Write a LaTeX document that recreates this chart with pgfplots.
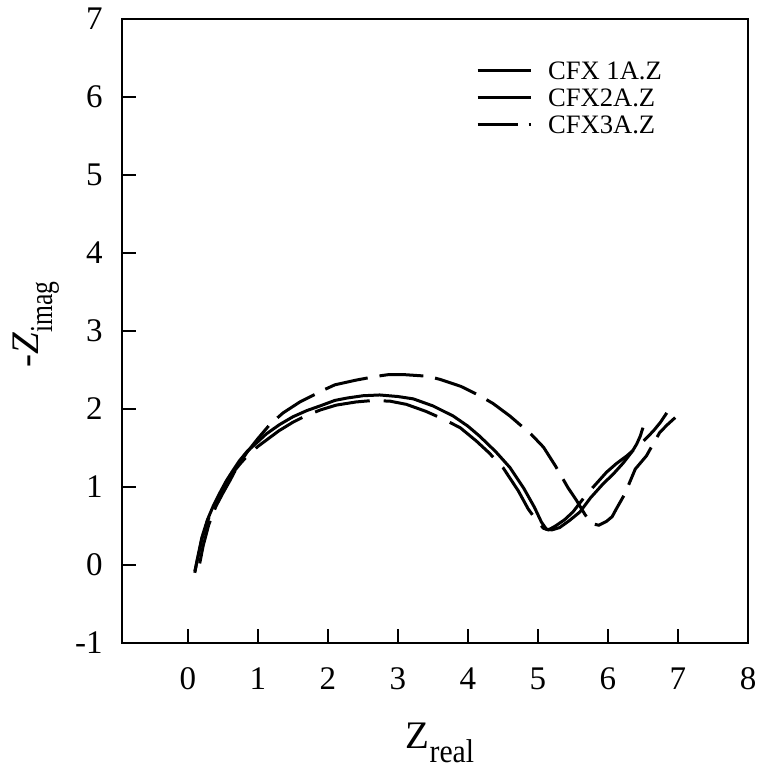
\documentclass[border=0pt]{standalone}
\usepackage{fontspec}
\setmainfont{Liberation Serif}
\usepackage{pgfplots}
\pgfplotsset{compat=1.18}

\begin{document}
\begin{tikzpicture}
\begin{axis}[
  at={(0,0)}, anchor=south west,
  scale only axis,
  width=313bp, height=312bp,
  xmin=-0.94, xmax=8, ymin=-1, ymax=7,
  xtick={0,1,2,3,4,5,6,7,8},
  ytick={-1,0,1,2,3,4,5,6,7},
  xticklabels={0,1,2,3,4,5,6,7,8},
  yticklabels={-1,0,1,2,3,4,5,6,7},
  xtick pos=bottom, ytick pos=left,
  tick align=inside,
  major tick length=7bp,
  tick style={line width=1.1bp, black},
  axis line style={line width=1.2bp},
  ticklabel style={font=\fontsize{16.5bp}{16.5bp}\selectfont},
  xticklabel style={inner sep=0pt, anchor=north, yshift=-12bp},
  yticklabel style={inner sep=0pt, anchor=east, xshift=-9.5bp},
  xlabel={{\fontsize{19.5bp}{19.5bp}\selectfont Z}\raisebox{-7bp}{\scalebox{0.9}[1]{\fontsize{16.5bp}{16.5bp}\selectfont real}}},
  ylabel={{\fontsize{19.5bp}{19.5bp}\selectfont -\textit{Z}}\raisebox{-7bp}{\scalebox{0.8}[1]{\fontsize{16bp}{16bp}\selectfont imag}}},
  xlabel style={at={(axis description cs:0.508,0)}, anchor=base, yshift=-52.5bp, inner sep=0pt},
  ylabel style={at={(axis description cs:-0.134,0.51)}, anchor=base, inner sep=0pt},
  legend style={at={(0.565,0.932)}, anchor=north west, draw=none, fill=none,
    inner sep=0pt, row sep=4.8bp, column sep=8bp,
    nodes={inner sep=0pt, text height=8.7bp, text depth=0pt, anchor=base west,
           font=\fontsize{13.3bp}{13.3bp}\selectfont}},
  legend cell align=left,
  every axis plot/.append style={line width=1.5bp, black},
]

% CFX 1A.Z
\addplot[solid,
  legend image code/.code={\draw[line width=1.5bp] (0bp,4.3bp)--(26.5bp,4.3bp);}]
coordinates {
(0.10,-0.10) (0.13,0.05) (0.20,0.35) (0.28,0.58) (0.36,0.75) (0.46,0.93)
(0.55,1.08) (0.65,1.22) (0.74,1.34) (0.85,1.46) (1.00,1.58) (1.12,1.68)
(1.31,1.80) (1.50,1.90) (1.70,1.98) (1.89,2.04) (2.10,2.11) (2.27,2.14)
(2.50,2.17) (2.74,2.18) (3.00,2.16) (3.22,2.13) (3.50,2.04) (3.79,1.91)
(4.00,1.78) (4.17,1.65) (4.40,1.45) (4.60,1.25) (4.80,0.98) (4.95,0.74)
(5.05,0.55) (5.12,0.46) (5.20,0.45) (5.31,0.48) (5.45,0.57) (5.60,0.68)
(5.75,0.86) (5.93,1.04) (6.08,1.17) (6.22,1.31) (6.35,1.46) (6.41,1.55)
(6.46,1.65) (6.50,1.76)
};
\addlegendentry{CFX 1A.Z}

% CFX2A.Z
\addplot[dash pattern=on 28bp off 7bp,
  legend image code/.code={\draw[line width=1.5bp] (0bp,4.3bp)--(26.5bp,4.3bp);}]
coordinates {
(0.10,-0.08) (0.14,0.08) (0.20,0.33) (0.28,0.56) (0.36,0.73) (0.46,0.91)
(0.55,1.06) (0.65,1.19) (0.75,1.30) (0.85,1.40) (1.00,1.52) (1.15,1.62)
(1.30,1.72) (1.50,1.83) (1.70,1.92) (1.90,1.99) (2.12,2.05) (2.40,2.09)
(2.65,2.11) (2.89,2.10) (3.12,2.06) (3.40,1.97) (3.65,1.87) (3.89,1.76)
(4.12,1.59) (4.30,1.44) (4.50,1.25) (4.72,0.95) (4.86,0.72) (4.98,0.57)
(5.08,0.47) (5.15,0.45) (5.25,0.50) (5.38,0.58) (5.50,0.68) (5.62,0.82)
(5.72,0.93) (5.85,1.06) (5.98,1.19) (6.12,1.30) (6.27,1.40) (6.41,1.51)
(6.53,1.61) (6.65,1.72) (6.75,1.83) (6.84,1.95)
};
\addlegendentry{CFX2A.Z}

% CFX3A.Z
\addplot[dash pattern=on 22bp off 6bp,
  legend image code/.code={\draw[line width=1.5bp] (0bp,4.3bp)--(20bp,4.3bp);
                           \draw[line width=1.5bp] (25.5bp,4.3bp)--(26.5bp,4.3bp);}]
coordinates {
(0.17,0.02) (0.22,0.25) (0.30,0.52) (0.40,0.75) (0.50,0.92) (0.60,1.08)
(0.70,1.25) (0.85,1.45) (1.00,1.62) (1.17,1.80) (1.36,1.95) (1.60,2.09)
(1.93,2.24) (2.10,2.31) (2.40,2.37) (2.70,2.42) (2.86,2.44) (3.10,2.44)
(3.43,2.42) (3.60,2.38) (3.90,2.29) (4.17,2.17) (4.36,2.07) (4.60,1.91)
(4.91,1.67) (5.08,1.51) (5.25,1.27) (5.43,0.99) (5.55,0.83) (5.67,0.65)
(5.77,0.53) (5.87,0.51) (5.98,0.56) (6.06,0.62) (6.12,0.72) (6.24,0.91)
(6.39,1.23) (6.55,1.40) (6.65,1.56) (6.74,1.70) (6.85,1.80) (6.96,1.89)
};
\addlegendentry{CFX3A.Z}

\end{axis}
\pgfresetboundingbox
\path[use as bounding box] (-61bp,-64.5bp) rectangle (318bp,321.5bp);
\end{tikzpicture}
\end{document}
